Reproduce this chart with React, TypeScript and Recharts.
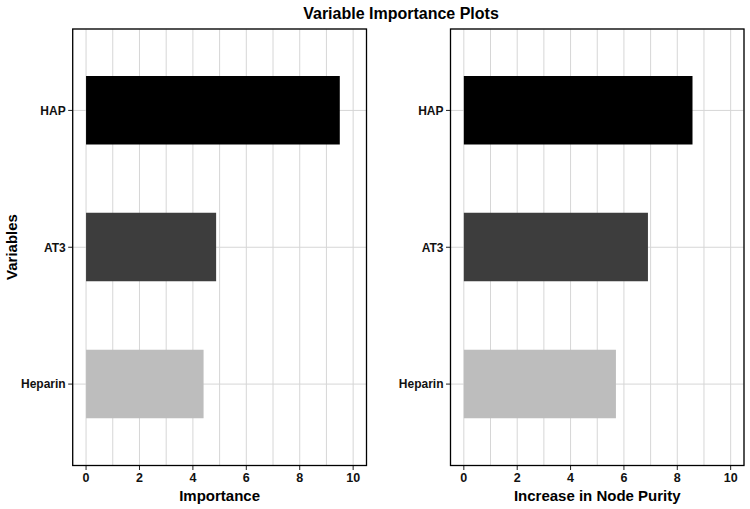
import React from 'react';
import { BarChart, Bar, XAxis, YAxis, CartesianGrid, Cell, Label } from 'recharts';

const variables = ['HAP', 'AT3', 'Heparin'];
const importanceValues = [9.5, 4.87, 4.4];
const purityValues = [8.57, 6.9, 5.7];
const barColors = ['#000000', '#3d3d3d', '#bdbdbd'];
const xTicks = [0, 1, 2, 3, 4, 5, 6, 7, 8, 9, 10];
const xDomain = [-0.5, 10.5];

const FONT = '"Liberation Sans", Arial, Helvetica, sans-serif';
const CHART_W = 375;
const CHART_H = 509;
const TOP = 29;
const X_AXIS_H = 43.5;
const TICK_SIZE = 4.5;
const TICK_MARGIN = 3;

// only even values get a label and a tick mark; odd ones just feed the minor grid
const XTick = (props: any) => {
  const { x, y, payload } = props;
  if (payload.value % 2 !== 0) return null;
  const top = y - TICK_SIZE - TICK_MARGIN;
  return (
    <g>
      <line x1={x} x2={x} y1={top} y2={top + TICK_SIZE} stroke="#222" strokeWidth={1} />
      <text x={x} y={y} dy="0.71em" textAnchor="middle" fontFamily={FONT} fontWeight="bold" fontSize={12.5} fill="#111">
        {payload.value}
      </text>
    </g>
  );
};

interface PanelProps {
  values: number[];
  xTitle: string;
  left: number;
  yAxisWidth: number;
  rightMargin: number;
}

const Panel: React.FC<PanelProps> = ({ values, xTitle, left, yAxisWidth, rightMargin }) => {
  const data = variables.map((name, i) => ({ name, value: values[i] }));
  const plotW = CHART_W - yAxisWidth - rightMargin;
  const plotH = CHART_H - TOP - X_AXIS_H;
  return (
    <div style={{ position: 'absolute', left, top: 0 }}>
      <BarChart
        width={CHART_W}
        height={CHART_H}
        data={data}
        layout="vertical"
        margin={{ top: TOP, right: rightMargin, bottom: 0, left: 0 }}
      >
        <CartesianGrid stroke="#d6d6d6" strokeWidth={1} />
        <XAxis
          type="number"
          domain={xDomain}
          ticks={xTicks}
          allowDataOverflow
          height={X_AXIS_H}
          tickSize={TICK_SIZE}
          tickMargin={TICK_MARGIN}
          tickLine={false}
          tick={<XTick />}
          axisLine={false}
        >
          <Label
            value={xTitle}
            position="insideBottom"
            offset={8}
            style={{ fontFamily: FONT, fontWeight: 'bold', fontSize: 15, fill: '#000' }}
          />
        </XAxis>
        <YAxis
          type="category"
          dataKey="name"
          width={yAxisWidth}
          padding={{ top: 13, bottom: 13 }}
          tickSize={4.5}
          tickMargin={2.5}
          tickLine={{ stroke: '#222' }}
          axisLine={false}
          tick={{ fontFamily: FONT, fontWeight: 'bold', fontSize: 12, fill: '#111' }}
        />
        <Bar dataKey="value" barSize={68.5} isAnimationActive={false}>
          {data.map((d, i) => (
            <Cell key={d.name} fill={barColors[i]} />
          ))}
        </Bar>
      </BarChart>
      {/* panel frame, drawn over the plot area */}
      <svg width={CHART_W} height={CHART_H} style={{ position: 'absolute', left: 0, top: 0, pointerEvents: 'none' }}>
        <rect x={yAxisWidth} y={TOP} width={plotW} height={plotH} fill="none" stroke="#000" strokeWidth={1.3} />
      </svg>
    </div>
  );
};

export default function App() {
  return (
    <div style={{ position: 'absolute', left: 0, top: 0, width: 750, height: 509, background: '#fff' }}>
      <Panel values={importanceValues} xTitle="Importance" left={0} yAxisWidth={72.7} rightMargin={8.5} />
      <Panel values={purityValues} xTitle="Increase in Node Purity" left={375} yAxisWidth={75.5} rightMargin={6} />
      <svg width={750} height={509} style={{ position: 'absolute', left: 0, top: 0, pointerEvents: 'none' }}>
        <text x={401} y={18.5} textAnchor="middle" fontFamily={FONT} fontWeight="bold" fontSize={16} fill="#000">
          Variable Importance Plots
        </text>
        <text
          x={17}
          y={247}
          transform="rotate(-90 17 247)"
          textAnchor="middle"
          fontFamily={FONT}
          fontWeight="bold"
          fontSize={15}
          fill="#000"
        >
          Variables
        </text>
      </svg>
    </div>
  );
}
